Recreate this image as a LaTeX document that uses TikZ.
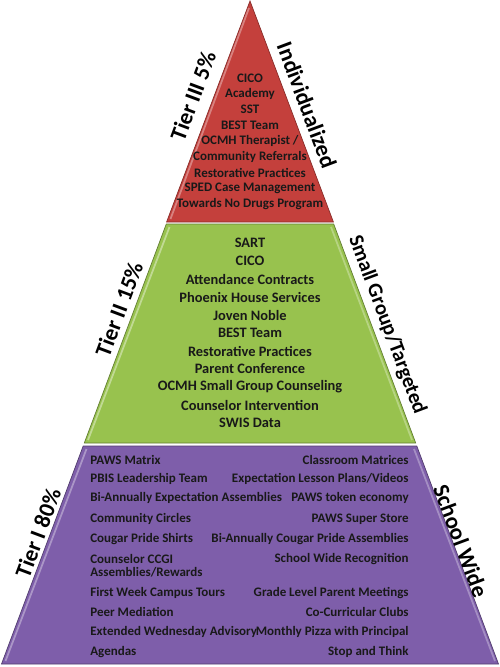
\documentclass[tikz,border=0pt]{standalone}
\usepackage{fontspec}
\setmainfont{Carlito}
\usepackage{tikz}
\usetikzlibrary{positioning}
\definecolor{tierred}{RGB}{196,64,60}
\definecolor{tiergreen}{RGB}{152,194,78}
\definecolor{tierpurple}{RGB}{126,94,170}

\begin{document}
\begin{tikzpicture}[x=0.02cm, y=-0.02cm,
  item/.style={inner sep=0pt, text=black!90, font=\bfseries\fontsize{#1}{#1}\selectfont},
  item/.default=7.4,
  tierlabel/.style={inner sep=0pt, font=\bfseries\fontsize{#1}{#1}\selectfont},
  tierlabel/.default=13]
  \useasboundingbox (0,0) rectangle (500,667);
  % pyramid tiers
  \fill[tierred] (250,1) -- (333.4,222) -- (166.6,222) -- cycle;
  \draw[tierred!70!black, line width=.4] (250,1) -- (333.4,222) -- (166.6,222) -- cycle;
  \draw[white, opacity=.35, line width=1] (249,8) -- (170.5,219);
  \fill[tiergreen] (166.3,224) -- (333.7,224) -- (415.7,443) -- (84.3,443) -- cycle;
  \draw[tiergreen!65!black, line width=.4] (166.3,224) -- (333.7,224) -- (415.7,443) -- (84.3,443) -- cycle;
  \draw[white, opacity=.4, line width=1] (169.5,227) -- (88,440);
  \draw[white, opacity=.3, line width=1] (331,227) -- (412,440);
  \fill[tierpurple] (83.2,446) -- (416.8,446) -- (498.5,664) -- (1.5,664) -- cycle;
  \draw[tierpurple!65!black, line width=.4] (83.2,446) -- (416.8,446) -- (498.5,664) -- (1.5,664) -- cycle;
  \draw[white, opacity=.35, line width=1] (86.5,449) -- (5.5,661);
  \draw[white, opacity=.3, line width=1] (414,449) -- (495,661);

  % tier III
  \foreach \t [count=\i] in {CICO, Academy, SST, BEST Team, OCMH Therapist /,
      Community Referrals, Restorative Practices, SPED Case Management,
      Towards No Drugs Program}
    \node[item] (red\i) at (250, {78+15.75*(\i-1)}) {\t};
  % tier II
  \foreach \t [count=\i] in {SART, CICO, Attendance Contracts, Phoenix House Services,
      Joven Noble, BEST Team, Restorative Practices, Parent Conference,
      OCMH Small Group Counseling, Counselor Intervention, SWIS Data}
    \node[item=8.2] (green\i) at (250, {243+18*(\i-1)}) {\t};
  % tier I, two columns
  \foreach \y/\t [count=\i] in {460/PAWS Matrix, 479/PBIS Leadership Team,
      498/Bi-Annually Expectation Assemblies, 519/Community Circles,
      539/Cougar Pride Shirts, 559/Counselor CCGI, 572/{Assemblies/Rewards},
      593/First Week Campus Tours, 612/Peer Mediation,
      632/Extended Wednesday Advisory, 652/Agendas}
    \node[item, anchor=west] (left\i) at (90,\y) {\t};
  \foreach \y/\t [count=\i] in {460/Classroom Matrices, 479/{Expectation Lesson Plans/Videos},
      498/PAWS token economy, 519/PAWS Super Store,
      539/Bi-Annually Cougar Pride Assemblies, 559/School Wide Recognition,
      593/Grade Level Parent Meetings, 612/Co-Curricular Clubs,
      632/Monthly Pizza with Principal, 652/Stop and Think}
    \node[item, anchor=east] (right\i) at (409,\y) {\t};

  % side labels
  \node[tierlabel, rotate=69.5] (tier3) at (193,96) {Tier III 5\%};
  \node[tierlabel, rotate=-69.5] (indiv) at (307,105) {Individualized};
  \node[tierlabel, rotate=69.5] (tier2) at (119,309) {Tier II 15\%};
  \node[tierlabel=11.8, rotate=-69.5] (small) at (387,325) {Small Group/Targeted};
  \node[tierlabel, rotate=69.5] (tier1) at (38,533) {Tier I 80\%};
  \node[tierlabel, rotate=-69.5] (school) at (461,541) {School Wide};
\end{tikzpicture}
\end{document}
